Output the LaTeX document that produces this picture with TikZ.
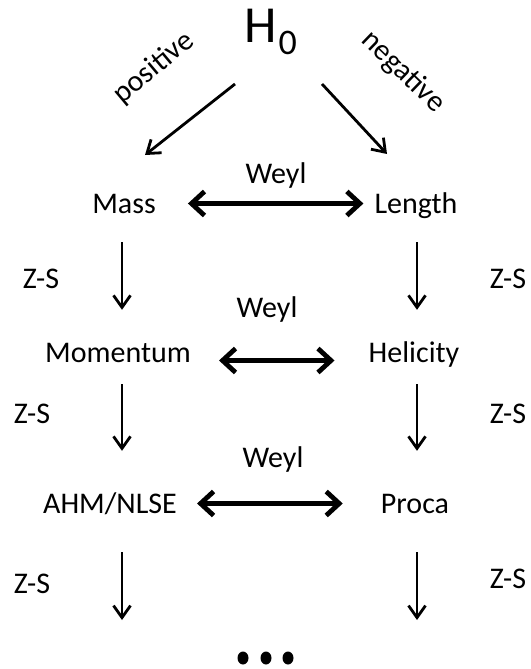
\documentclass[tikz,border=0pt]{standalone}
\usepackage{fontspec}
\setmainfont{Carlito}
\usetikzlibrary{arrows.meta}
\begin{document}
\begin{tikzpicture}[x=1pt,y=-1pt,
  lbl/.style={inner sep=0pt, font=\fontsize{30}{36}\selectfont},
  term/.style={lbl, anchor=base, text height=19pt, text depth=0pt},
  zs/.style={-{Straight Barb[length=12pt,width=17pt]}, line width=2.8pt},
  weyl/.style={{Straight Barb[length=13pt,width=24pt]}-{Straight Barb[length=13pt,width=24pt]}, line width=4.8pt}]
\useasboundingbox (0,0) rectangle (530,669);
\coordinate (colL) at (122,0);
\coordinate (colR) at (417,0);
% top
\node[anchor=base west, inner sep=0pt, font=\fontsize{52}{60}\selectfont] (H0) at (244,43)
  {H\kern2pt\raisebox{-12pt}{\fontsize{36}{40}\selectfont 0}};
\node[lbl, rotate=40] (pos) at (154,68) {positive};
\node[lbl, rotate=-44] (neg) at (403,72) {negative};
% terms
\node[term] (Mass) at (124,213) {Mass};
\node[term] (Length) at (416,213) {Length};
\node[term] (Mom) at (118,362) {Momentum};
\node[term] (Hel) at (414,362) {Helicity};
\node[term] (AHM) at (110,513) {AHM/NLSE};
\node[term] (Proca) at (415,513) {Proca};
% labels
\node[term] (w1) at (276,183) {Weyl};
\node[term] (w2) at (267,317) {Weyl};
\node[term] (w3) at (273,467) {Weyl};
\node[term] (zl1) at (41,288) {Z-S};
\node[term] (zr1) at (508,288) {Z-S};
\node[term] (zl2) at (32,423) {Z-S};
\node[term] (zr2) at (508,423) {Z-S};
\node[term] (zl3) at (32,593) {Z-S};
\node[term] (zr3) at (508,588) {Z-S};
% diagonal arrows
\coordinate (dl0) at (235,84);
\coordinate (dl1) at (145,155);
\coordinate (dr0) at (322,84);
\coordinate (dr1) at (387,154);
\draw[zs] (dl0) -- (dl1);
\draw[zs] (dr0) -- (dr1);
% vertical arrows
\draw[zs, shorten <=29pt, shorten >=33pt] (colL |- Mass.south) -- (colL |- Mom.north);
\draw[zs, shorten <=29pt, shorten >=33pt] (colR |- Length.south) -- (colR |- Hel.north);
\draw[zs, shorten <=22pt, shorten >=43pt] (colL |- Mom.south) -- (colL |- AHM.north);
\draw[zs, shorten <=22pt, shorten >=43pt] (colR |- Hel.south) -- (colR |- Proca.north);
\coordinate (endL) at (122,620);
\coordinate (endR) at (417,620);
\draw[zs, shorten <=39pt] (colL |- AHM.south) -- (endL);
\draw[zs, shorten <=39pt] (colR |- Proca.south) -- (endR);
% Weyl arrows
\draw[weyl, shorten <=32pt, shorten >=11pt] (Mass.east) -- (Length.west);
\draw[weyl, shorten <=28pt, shorten >=34pt] ([yshift=-8pt]Mom.east) -- ([yshift=-8pt]Hel.west);
\draw[weyl, shorten <=20pt, shorten >=38pt] (AHM.east) -- (Proca.west);
% dots
\fill (243,658) ellipse [x radius=5.5, y radius=6.5];
\fill (266,658) ellipse [x radius=5.5, y radius=6.5];
\fill (288,658) ellipse [x radius=5.5, y radius=6.5];
\end{tikzpicture}
\end{document}
